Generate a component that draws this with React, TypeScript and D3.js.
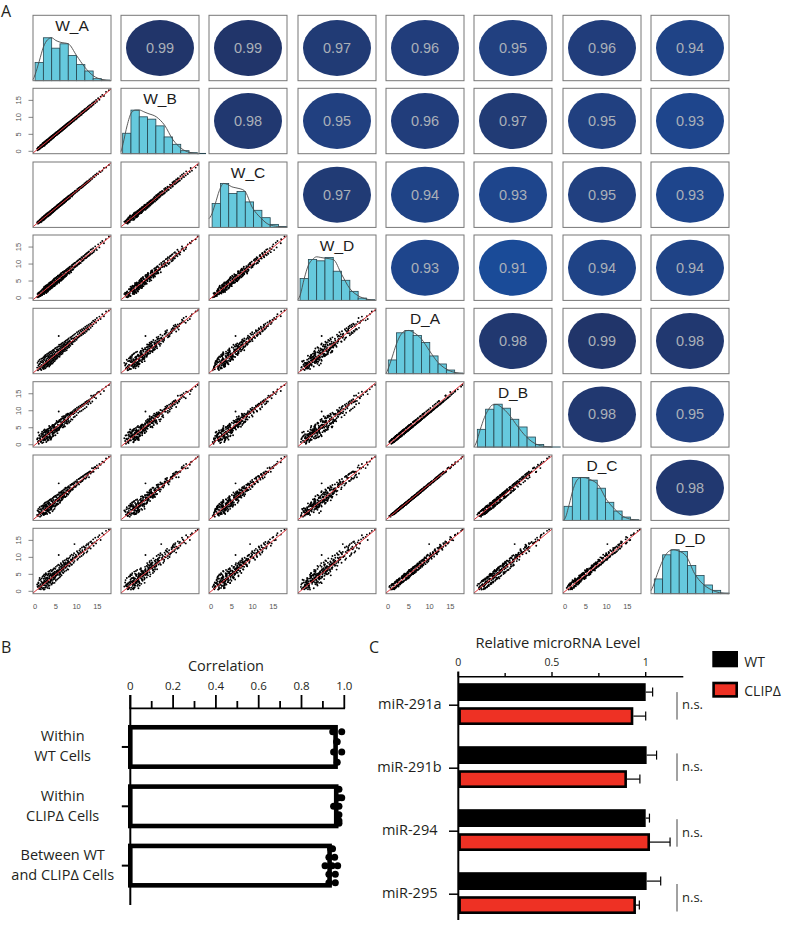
import React from "react";
import * as d3 from "d3";

const sampleNames = ["W_A", "W_B", "W_C", "W_D", "D_A", "D_B", "D_C", "D_D"];

const correlations = [
  [0.99, 0.99, 0.97, 0.96, 0.95, 0.96, 0.94],
  [0.98, 0.95, 0.96, 0.97, 0.95, 0.93],
  [0.97, 0.94, 0.93, 0.95, 0.93],
  [0.93, 0.91, 0.94, 0.94],
  [0.98, 0.99, 0.98],
  [0.98, 0.95],
  [0.98],
];

// Histogram bar heights per sample, 2-unit bins
const histCounts = [
  [54, 128, 97, 110, 75, 48, 29, 6, 2],
  [61, 130, 110, 103, 83, 50, 28, 9, 3, 1],
  [71, 131, 101, 107, 76, 51, 29, 9, 3],
  [65, 122, 118, 128, 87, 60, 27, 7, 2],
  [41, 122, 129, 114, 93, 53, 29, 11, 2],
  [53, 113, 128, 116, 83, 60, 30, 8, 1, 0.5],
  [42, 128, 128, 120, 96, 54, 28, 10, 2],
  [44, 116, 131, 126, 84, 54, 26, 10, 2],
];
const histFirstEdge = [0, -0.1, 0.25, 0, 0.05, 0.3, -0.25, 0.3];

const densityX = [-0.5, 0, 1, 2, 3, 4, 5, 6, 8, 10, 12, 14, 16, 18.3];
const densityY = [
  [3, 18, 58, 100, 122, 128, 120, 115, 110, 75, 40, 15, 4, 0],
  [6, 30, 85, 122, 130, 130, 125, 120, 110, 85, 42, 16, 4, 0],
  [26, 35, 70, 110, 131, 128, 121, 118, 110, 58, 28, 8, 3, 0],
  [2, 15, 65, 105, 122, 130, 128, 126, 122, 78, 35, 14, 4, 0],
  [0, 14, 50, 88, 115, 127, 129, 124, 104, 68, 34, 14, 4, 0],
  [0, 12, 52, 88, 112, 126, 127, 120, 96, 62, 32, 12, 3, 0],
  [0, 6, 48, 95, 122, 128, 127, 122, 106, 62, 33, 12, 3, 0],
  [9, 22, 58, 90, 115, 128, 131, 128, 112, 60, 29, 12, 3, 0],
];

// Expression in tenths of a log2 unit, columns W_A W_B W_C W_D D_A D_B D_C D_D
const expressionTenths = [
  [5,8,7,3,11,16,9,20],[6,3,10,12,25,19,22,14],[7,11,4,2,3,8,6,13],[8,5,9,16,17,11,20,26],
  [8,12,11,5,30,36,27,24],[9,7,6,14,8,3,10,17],[10,6,13,9,21,27,18,33],[10,13,7,4,13,19,15,7],
  [11,9,15,17,34,28,32,39],[12,16,9,7,6,12,4,10],[12,8,10,13,23,18,26,15],[13,10,17,19,9,16,12,21],
  [13,18,14,6,28,23,25,34],[14,11,8,10,15,8,17,6],[15,19,16,21,37,32,35,29],[15,12,19,11,4,10,7,16],
  [16,14,10,8,19,26,21,12],[16,20,18,23,27,33,24,38],[17,13,22,15,11,5,14,22],[17,15,13,9,31,38,29,26],
  [18,23,20,14,16,22,13,8],[18,14,16,26,38,30,36,43],[19,16,23,17,8,14,11,19],[19,24,15,12,25,31,28,20],
  [20,17,18,27,41,35,38,46],[20,25,24,15,12,7,15,10],[20,18,14,21,29,24,33,23],[21,16,25,13,18,25,16,27],
  [21,26,19,30,35,42,31,37],[21,19,17,24,7,13,9,5],[22,24,27,18,22,16,25,31],[22,18,20,33,44,37,42,50],
  [22,27,16,12,14,20,11,18],[23,20,26,28,33,27,36,28],[23,25,18,19,10,17,13,6],[23,17,28,25,39,45,36,44],
  [24,29,21,16,20,14,23,29],[24,22,27,34,47,40,45,39],[24,20,19,22,16,23,14,11],[25,28,30,17,26,31,29,36],
  [25,21,22,31,42,36,39,48],[25,30,26,20,9,15,12,17],[26,23,21,36,30,24,33,26],[26,28,31,19,19,26,16,12],
  [26,22,24,27,48,43,46,53],[27,32,23,15,24,18,21,31],[27,24,29,33,36,41,38,29],[27,25,32,22,13,8,15,22],
  [28,33,26,38,44,38,41,50],[28,23,30,21,21,28,24,16],[28,26,25,26,32,25,35,39],[29,31,34,18,15,21,12,24],
  [29,25,27,35,51,45,48,41],[29,34,24,30,27,34,30,36],[30,27,33,23,18,12,21,10],[30,32,28,39,38,44,35,47],
  [30,26,35,25,23,17,26,32],[31,36,27,19,46,40,43,37],[31,28,32,37,29,35,27,21],[31,33,29,28,17,23,19,28],
  [32,29,37,41,41,34,44,52],[32,35,26,22,25,31,22,16],[32,27,30,34,53,47,50,58],[33,38,34,26,20,14,23,30],
  [33,30,28,40,34,41,31,26],[33,31,37,24,43,37,40,49],[34,37,31,33,14,20,17,9],[34,29,36,44,28,22,31,38],
  [34,36,30,27,49,55,46,42],[35,32,38,25,39,33,36,45],[35,40,33,42,22,29,24,17],[35,31,29,37,56,49,53,60],
  [36,39,41,30,31,25,34,27],[36,33,32,46,18,24,15,25],[36,38,35,26,45,51,42,53],[37,34,40,39,26,20,29,35],
  [37,42,36,31,52,46,55,47],[37,33,31,43,36,42,33,28],[38,35,42,28,21,15,24,31],[38,41,37,47,42,36,39,50],
  [38,34,36,34,58,52,55,63],[39,44,35,29,30,37,27,22],[39,36,41,44,47,41,50,39],[39,37,33,36,24,18,27,34],
  [40,38,44,32,37,43,34,46],[40,45,39,49,54,48,51,59],[40,36,37,41,28,22,31,20],[41,43,45,35,60,55,57,51],
  [41,38,36,46,33,39,36,44],[41,46,43,30,43,37,40,33],[42,39,40,50,23,29,20,27],[42,44,47,37,51,58,48,62],
  [42,38,37,33,38,32,41,48],[43,48,41,45,62,56,59,53],[43,40,46,52,31,25,34,24],[43,41,39,36,47,53,44,40],
  [44,47,48,39,35,41,38,46],[44,41,42,53,56,50,53,65],[44,46,38,34,27,33,24,35],[45,42,49,43,41,35,44,51],
  [45,50,44,55,64,58,61,54],[45,41,47,38,33,27,36,42],[46,44,41,50,49,56,46,38],[46,49,50,35,39,45,42,52],
  [46,43,45,57,60,53,63,68],[47,52,46,40,30,36,27,25],[47,44,42,48,52,46,49,58],[47,45,51,54,43,37,46,50],
  [48,46,44,37,67,60,64,57],[48,51,52,46,36,42,33,41],[48,45,47,58,44,50,47,36],[49,54,45,42,56,62,53,66],
  [49,46,53,51,34,28,37,43],[50,48,46,59,48,42,51,46],[50,53,54,44,69,63,66,72],[50,47,49,40,39,46,36,31],
  [51,49,55,47,58,52,61,54],[51,56,48,60,45,39,42,52],[52,49,50,43,37,43,40,47],[52,55,56,55,64,70,61,58],
  [52,48,47,62,50,44,53,60],[53,51,58,46,42,48,39,35],[53,57,50,42,71,65,68,75],[54,50,52,57,47,41,50,57],
  [54,58,57,63,60,66,57,51],[54,52,49,48,40,34,43,49],[55,53,60,52,65,59,68,62],[55,59,51,66,53,47,50,61],
  [56,52,54,47,44,51,41,38],[56,60,59,58,73,67,70,78],[57,54,52,64,49,43,52,59],[57,59,62,50,62,68,59,55],
  [58,55,56,45,55,49,58,48],[58,62,54,61,78,71,75,69],[58,54,60,67,51,45,54,63],[59,57,55,53,43,49,46,41],
  [59,64,63,49,67,73,64,76],[60,56,58,68,57,51,60,52],[60,64,57,55,74,68,71,65],[60,58,64,62,48,54,45,55],
  [61,59,56,70,63,57,66,72],[61,65,66,54,53,59,50,44],[62,58,60,51,79,73,76,83],[62,66,58,65,58,52,61,50],
  [62,60,65,72,69,75,66,62],[63,59,61,56,50,56,53,60],[63,67,68,60,72,66,75,80],[64,61,59,68,61,55,58,67],
  [64,68,63,52,82,76,79,72],[64,60,66,74,55,61,52,47],[65,63,69,59,66,60,69,75],[65,69,62,67,76,82,73,68],
  [66,62,64,58,52,58,55,63],[66,70,71,75,70,64,67,77],[66,64,61,55,60,66,63,56],[67,64,70,63,84,78,81,89],
  [67,71,65,77,57,51,60,66],[68,65,63,62,73,67,76,70],[68,72,73,69,63,69,60,54],[68,64,67,57,78,84,75,85],
  [69,67,72,76,59,53,62,69],[69,73,66,60,72,78,69,63],[70,66,68,72,81,75,84,78],[70,74,75,64,64,58,67,74],
  [70,68,65,79,75,69,72,82],[71,68,73,61,87,81,84,91],[71,75,70,73,66,72,63,58],[72,70,67,78,60,54,63,71],
  [72,76,77,66,79,85,76,73],[72,68,71,80,70,64,73,79],[73,71,76,67,86,80,89,84],[73,77,69,63,65,71,62,69],
  [74,70,72,82,77,71,74,85],[74,78,79,71,90,84,87,80],[75,72,70,65,69,63,72,61],[75,79,76,81,83,89,80,93],
  [76,74,80,70,62,68,65,72],[76,80,73,84,78,72,81,75],[77,73,75,68,92,86,89,97],[77,81,82,79,73,67,70,81],
  [78,75,74,86,85,91,82,77],[78,82,77,72,68,62,71,65],[79,76,83,80,81,75,84,90],[79,83,76,74,94,88,91,85],
  [80,77,78,88,72,78,69,64],[80,84,85,76,87,81,90,96],[81,78,76,83,76,70,79,87],[81,85,80,73,97,91,94,88],
  [82,80,86,90,83,89,80,75],[82,78,79,77,71,65,74,82],[83,87,81,85,91,85,88,99],[83,80,87,72,78,84,81,74],
  [84,82,79,92,88,82,91,85],[85,81,88,78,100,94,97,104],[85,89,83,87,75,69,78,83],[86,84,90,81,85,91,82,93],
  [87,83,85,94,95,89,98,92],[87,91,86,76,81,75,84,78],[88,85,92,91,102,96,99,108],[89,86,84,82,84,90,87,79],
  [89,93,90,97,97,91,100,94],[90,87,88,85,80,74,83,90],[91,95,89,93,105,99,102,96],[91,88,95,99,88,94,85,100],
  [92,89,90,84,96,90,99,106],[93,97,92,100,87,81,90,84],[94,90,97,89,108,102,105,112],[95,99,93,92,92,98,95,89],
  [95,92,94,103,99,93,102,139],[96,94,100,91,89,83,92,99],[97,101,95,104,111,105,108,102],[98,94,99,93,95,101,92,108],
  [99,103,102,96,103,97,106,100],[100,96,98,107,93,87,96,104],[101,105,99,95,115,109,112,118],[102,99,106,109,98,104,101,93],
  [103,100,101,98,109,103,106,114],[104,108,103,111,100,94,103,97],[105,102,109,101,118,112,115,109],[106,110,104,100,102,108,99,112],
  [107,103,105,114,113,107,116,120],[108,112,111,104,104,98,107,101],[109,106,108,116,121,115,118,125],[110,107,113,103,108,114,105,116],
  [111,115,109,113,117,111,120,113],[112,108,110,120,106,100,109,104],[113,117,116,108,124,118,121,129],[114,111,112,118,112,118,109,121],
  [115,119,113,110,120,114,123,116],[116,113,119,123,110,104,113,108],[117,120,115,112,127,121,124,132],[118,115,117,124,115,121,118,112],
  [57,54,59,52,104,98,102,107],
  [119,123,122,116,124,118,127,130],[120,117,118,127,113,107,116,124],[121,125,120,117,131,125,128,122],[122,119,125,129,119,125,116,128],
  [123,120,121,118,127,121,130,135],[124,128,123,131,117,111,120,114],[125,122,128,120,134,128,131,139],[126,123,124,133,122,128,125,118],
  [127,131,126,123,130,124,133,126],[128,125,130,135,125,119,128,137],[129,126,127,124,137,131,134,142],[130,134,129,137,123,129,120,128],
  [131,128,134,126,133,127,136,131],[133,137,131,128,140,134,137,145],[134,131,133,142,128,122,131,126],[135,132,138,130,138,144,135,147],
  [137,141,136,144,144,138,147,141],[138,135,137,132,133,127,136,142],[140,144,142,147,149,143,146,153],[141,138,144,135,139,145,136,134],
  [143,147,141,139,146,140,149,144],[145,142,148,152,152,147,150,158],[147,151,146,144,143,137,146,141],[149,146,152,141,157,152,155,150],
  [152,156,150,158,150,155,147,160],[155,152,158,149,161,156,159,165],[158,161,156,163,154,149,157,151],
  [162,166,160,168,168,163,166,171],[166,163,168,161,162,158,164,167],[171,175,169,173,176,171,175,178],
  [178,180,177,181,179,176,180,182],
];

// Panel B
const corrCategories = [["Within", "WT Cells"], ["Within", "CLIP\u0394 Cells"], ["Between WT", "and CLIP\u0394 Cells"]];
const corrMeans = [0.97, 0.973, 0.942];
const corrDots = [
  [0.988, 0.946, 0.964, 0.967, 0.988, 0.95, 0.967],
  [0.975, 0.975, 0.988, 0.95, 0.975, 0.975, 0.975, 0.975],
  [0.936, 0.945, 0.955, 0.928, 0.91, 0.943, 0.969, 0.928, 0.958, 0.928, 0.958],
];
const corrDotLanes = [
  [-1.8, -1.8, -0.6, -0.6, 0.6, 0.6, 1.8],
  [-2, -1, -1, 0, 0, 1, 2, 1.7],
  [-2, -2, -1, -1, 0, 0, 0, 1, 1, 2, 2],
];
const corrTicks = [0, 0.2, 0.4, 0.6, 0.8, 1.0];
const corrMinorTicks = [0.1, 0.3, 0.5, 0.7, 0.9];

// Panel C
const mirNames = ["miR-291a", "miR-291b", "miR-294", "miR-295"];
const wtLevel = [1.0, 1.005, 1.0, 1.005];
const wtError = [0.037, 0.053, 0.02, 0.075];
const clipLevel = [0.934, 0.9, 1.023, 0.948];
const clipError = [0.066, 0.069, 0.107, 0.018];
const levelTicks = [0, 0.5, 1];
const levelMinorTicks = [0.25, 0.75];

const colLefts = [33, 121, 209, 298, 386, 474, 563, 651];
const rowTops = [15.3, 88.3, 162, 235, 308.3, 381.7, 455, 528.3];
const PW = 78;
const PH = 65.4;
const SANS = "'Liberation Sans', Arial, sans-serif";
const HUM = "'Open Sans', sans-serif";
const INK = "#231f20";

const rScale = d3.scaleLinear<string>().domain([0.91, 0.95, 0.99]).range(["#1a4b98", "#214080", "#21356a"]);
const xUnit = d3.scaleLinear().domain([-0.5, 18.3]).range([0, PW]);
const yUnit = d3.scaleLinear().domain([-0.7, 18.55]).range([PH, 0]);
const yHist = d3.scaleLinear().domain([0, 195]).range([PH, 0]);

function Histogram({ i }: { i: number }) {
  const counts = histCounts[i];
  const first = histFirstEdge[i];
  const line = d3.line<number>()
    .x((_, k) => xUnit(densityX[k]))
    .y((d) => yHist(d))
    .curve(d3.curveMonotoneX);
  return (
    <g>
      {counts.map((c, k) => (
        <rect key={k} x={xUnit(first + 2 * k)} y={yHist(c)}
          width={xUnit(first + 2 * (k + 1)) - xUnit(first + 2 * k)} height={PH - yHist(c)}
          fill="#66c9dd" stroke="#26454f" strokeWidth={0.8} />
      ))}
      <path d={line(densityY[i]) || ""} fill="none" stroke="#4a4a4a" strokeWidth={0.9} />
      <text x={PW / 2} y={16} textAnchor="middle" fontFamily={SANS} fontSize={15.5} fill="#1b1b1b">
        {sampleNames[i]}
      </text>
    </g>
  );
}

function Scatter({ row, col }: { row: number; col: number }) {
  return (
    <g clipPath="url(#panelClip)">
      {expressionTenths.map((g, k) => (
        <circle key={k} cx={xUnit(g[col] / 10)} cy={yUnit(g[row] / 10)} r={0.95} fill="#000" />
      ))}
      <line x1={xUnit(-1)} y1={yUnit(-1)} x2={xUnit(19)} y2={yUnit(19)} stroke="#e0353c" strokeWidth={1} />
    </g>
  );
}

function Ellipse({ r }: { r: number }) {
  return (
    <g>
      <ellipse cx={PW / 2} cy={PH / 2} rx={34} ry={28} fill={rScale(r)} />
      <text x={PW / 2} y={PH / 2 + 5} textAnchor="middle" fontFamily={SANS} fontSize={14.5} fill="#aab0b8">
        {r.toFixed(2)}
      </text>
    </g>
  );
}

function PanelA() {
  const tickVals = [0, 5, 10, 15];
  return (
    <g>
      <defs>
        <clipPath id="panelClip"><rect x={0} y={0} width={PW} height={PH} /></clipPath>
      </defs>
      {rowTops.map((top, row) =>
        colLefts.map((left, col) => (
          <g key={`${row}-${col}`} transform={`translate(${left},${top})`}>
            <rect width={PW} height={PH} fill="#fff" />
            {row === col && <Histogram i={row} />}
            {row > col && <Scatter row={row} col={col} />}
            {row < col && <Ellipse r={correlations[row][col - row - 1]} />}
            <rect width={PW} height={PH} fill="none" stroke="#777" strokeWidth={1} />
          </g>
        ))
      )}
      {rowTops.filter((_, r) => r % 2 === 1).map((top) => (
        <g key={top} transform={`translate(${colLefts[0]},${top})`}>
          {tickVals.map((t) => (
            <g key={t} transform={`translate(0,${yUnit(t)})`}>
              <line x1={-4.5} x2={0} stroke="#666" strokeWidth={0.8} />
              <text transform="translate(-12,0) rotate(-90)" textAnchor="middle" fontFamily={SANS} fontSize={7.5} fill="#555">{t}</text>
            </g>
          ))}
        </g>
      ))}
      {colLefts.filter((_, c) => c % 2 === 0).map((left) => (
        <g key={left} transform={`translate(${left},${rowTops[7] + PH})`}>
          {tickVals.map((t) => (
            <text key={t} x={xUnit(t)} y={15} textAnchor="middle" fontFamily={SANS} fontSize={7.5} fill="#555">{t}</text>
          ))}
        </g>
      ))}
    </g>
  );
}

function PanelB() {
  const x = d3.scaleLinear().domain([0, 1]).range([130.3, 344.3]);
  const y = d3.scaleBand<number>().domain([0, 1, 2]).range([717.5, 895.5]).paddingInner(0);
  const sw = 4.6;
  return (
    <g fontFamily={HUM} fill={INK}>
      <text x={1} y={652.7} fontSize={16}>B</text>
      <text x={226} y={670.5} textAnchor="middle" fontSize={14.5}>Correlation</text>
      <line x1={x(0) - 1} x2={x(1) + 0.8} y1={708.3} y2={708.3} stroke="#000" strokeWidth={1.8} />
      <line x1={x(0)} x2={x(0)} y1={695} y2={905} stroke="#000" strokeWidth={2} />
      {corrTicks.map((t) => (
        <g key={t}>
          <line x1={x(t)} x2={x(t)} y1={695} y2={708} stroke="#000" strokeWidth={1.8} />
          <text x={x(t)} y={689.5} textAnchor="middle" fontSize={11.5}>{t === 0 ? "0" : t.toFixed(1)}</text>
        </g>
      ))}
      {corrMinorTicks.map((t) => (
        <line key={t} x1={x(t)} x2={x(t)} y1={701} y2={708} stroke="#000" strokeWidth={1.8} />
      ))}
      {corrMeans.map((m, i) => {
        const cy = y(i)! + y.bandwidth() / 2 - 0.2;
        return (
          <g key={i}>
            <rect x={x(0)} y={cy - 22 + sw / 2} width={x(m) - x(0) - sw / 2} height={44 - sw}
              fill="#fff" stroke="#000" strokeWidth={sw} />
            <line x1={x(0) - 8.5} x2={x(0)} y1={cy} y2={cy} stroke="#000" strokeWidth={2} />
            {corrDots[i].map((d, k) => (
              <circle key={k} cx={x(d)} cy={cy + corrDotLanes[i][k] * 8.5} r={3.5} fill="#000" />
            ))}
            {corrCategories[i].map((s, k) => (
              <text key={k} x={62.7} y={cy - 5.5 + k * 20} textAnchor="middle" fontSize={14.5}>{s}</text>
            ))}
          </g>
        );
      })}
    </g>
  );
}

function PanelC() {
  const x = d3.scaleLinear().domain([0, 1]).range([458.3, 645.7]);
  const cy = d3.scalePoint<number>().domain([0, 1, 2, 3]).range([704.2, 893.2]);
  const nsOffsets = [0.9, -0.8, 2, 3.8];
  return (
    <g fontFamily={HUM} fill={INK}>
      <text x={369} y={652.7} fontSize={16}>C</text>
      <text x={558} y={648} textAnchor="middle" fontSize={14.7}>Relative microRNA Level</text>
      <line x1={x(0)} x2={683.3} y1={676.7} y2={676.7} stroke="#000" strokeWidth={1.4} />
      <line x1={x(0)} x2={x(0)} y1={671.5} y2={920} stroke="#000" strokeWidth={2} />
      {levelTicks.map((t) => (
        <g key={t}>
          <line x1={x(t)} x2={x(t)} y1={672} y2={676.7} stroke="#000" strokeWidth={1.4} />
          <text x={x(t)} y={666} textAnchor="middle" fontSize={10.5}>{t}</text>
        </g>
      ))}
      {levelMinorTicks.map((t) => (
        <line key={t} x1={x(t)} x2={x(t)} y1={673} y2={676.7} stroke="#000" strokeWidth={1.4} />
      ))}
      {mirNames.map((name, i) => {
        const c = cy(i)!;
        const wtY = c - 21;
        const reY = c + 3;
        const H = 17.8;
        const end = i > 1 ? 437.5 : 441.7;
        return (
          <g key={name}>
            <line x1={449} x2={x(0)} y1={c + 1} y2={c + 1} stroke="#000" strokeWidth={1.5} />
            <text x={end} y={c + 5.2} textAnchor="end" fontSize={14.5}>{name}</text>
            <line x1={x(wtLevel[i])} x2={x(wtLevel[i] + wtError[i])} y1={wtY + H / 2} y2={wtY + H / 2} stroke="#000" strokeWidth={1.2} />
            <line x1={x(wtLevel[i] + wtError[i])} x2={x(wtLevel[i] + wtError[i])} y1={wtY + H / 2 - 4.5} y2={wtY + H / 2 + 4.5} stroke="#000" strokeWidth={1.2} />
            <rect x={x(0)} y={wtY} width={x(wtLevel[i]) - x(0)} height={H} fill="#000" />
            <line x1={x(clipLevel[i])} x2={x(clipLevel[i] + clipError[i])} y1={reY + H / 2} y2={reY + H / 2} stroke="#000" strokeWidth={1.2} />
            <line x1={x(clipLevel[i] + clipError[i])} x2={x(clipLevel[i] + clipError[i])} y1={reY + H / 2 - 4.5} y2={reY + H / 2 + 4.5} stroke="#000" strokeWidth={1.2} />
            <rect x={x(0) + 1.3} y={reY + 1.3} width={x(clipLevel[i]) - x(0) - 2.6} height={H - 2.6} fill="#ee3124" stroke="#000" strokeWidth={2.6} />
            <line x1={677} x2={677} y1={c - 13 + nsOffsets[i]} y2={c + 14.5 + nsOffsets[i]} stroke="#444" strokeWidth={1} />
            <text x={682} y={c + 5 + nsOffsets[i] * (i === 0 ? 0 : 1)} fontSize={13}>n.s.</text>
          </g>
        );
      })}
      <rect x={712.3} y={651} width={25.7} height={16.3} fill="#000" />
      <text x={744.3} y={666.7} fontSize={14}>WT</text>
      <rect x={713.6} y={683} width={23.1} height={13.4} fill="#ee3124" stroke="#000" strokeWidth={2.6} />
      <text x={744.3} y={695.5} fontSize={14}>CLIP{"\u0394"}</text>
    </g>
  );
}

export default function App() {
  return (
    <svg width={785} height={926} viewBox="0 0 785 926"
      style={{ position: "absolute", left: 0, top: 0, display: "block", background: "#fff" }}>
      <text x={1} y={17} fontFamily={HUM} fontSize={16} fill={INK}>A</text>
      <PanelA />
      <PanelB />
      <PanelC />
    </svg>
  );
}
